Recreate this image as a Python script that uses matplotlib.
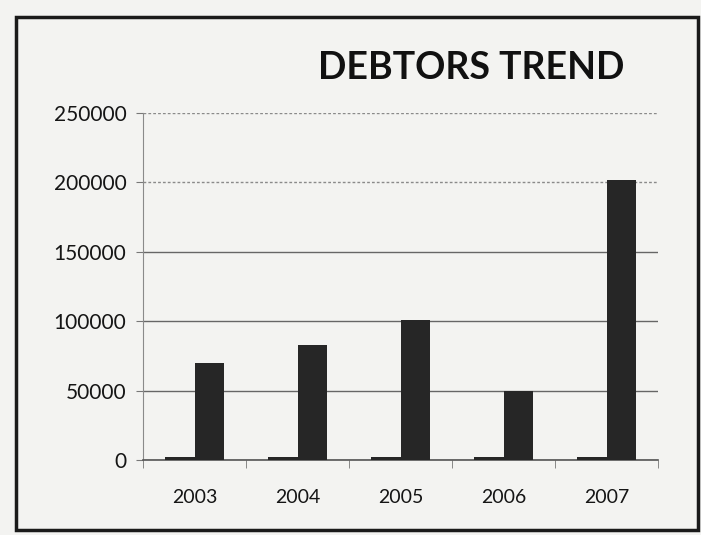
import numpy as np
import matplotlib
matplotlib.use("Agg")
import matplotlib.pyplot as plt
from matplotlib.patches import Rectangle

years = ["2003", "2004", "2005", "2006", "2007"]
year_col = [2003, 2004, 2005, 2006, 2007]
debtors = [70000, 83000, 101000, 49500, 202000]
yticks = [0, 50000, 100000, 150000, 200000, 250000]

plt.rcParams['font.family'] = ['Lato', 'DejaVu Sans']
paper = '#f3f3f1'
ink = '#262626'

fig = plt.figure(figsize=(7.01, 5.35), dpi=100, facecolor=paper)
ax = fig.add_axes([0.204, 0.140, 0.735, 0.649])
ax.set_facecolor(paper)

x = np.arange(len(years))
w = 0.286
ax.bar(x - w / 2, year_col, width=w, color=ink, zorder=3)
ax.bar(x + w / 2, debtors, width=w, color=ink, zorder=3)

ax.set_xlim(-0.5, len(years) - 0.5)
ax.set_ylim(0, 250000)
ax.set_yticks(yticks)
ax.set_yticklabels([str(v) for v in yticks], fontsize=15, color='#151515')
ax.set_xticks(x)
ax.set_xticklabels(years, fontsize=14, color='#151515')
ax.set_xticks(np.arange(-0.5, len(years)), minor=True)
ax.tick_params(axis='x', which='major', length=0, pad=21)
ax.tick_params(axis='x', which='minor', length=6, direction='out', color='#777777')
ax.tick_params(axis='y', length=5, pad=7, color='#777777')

# gridlines, the two upper ones printed faint/dotted
ax.yaxis.grid(True, color='#666666', linewidth=1.0, zorder=0)
for i, gl in enumerate(ax.get_ygridlines()):
    if yticks[i] >= 200000:
        gl.set_linestyle((0, (2, 1.5)))
        gl.set_color('#8a8a8a')

for side in ['top', 'right']:
    ax.spines[side].set_visible(False)
ax.spines['left'].set_color('#8a8a8a')
ax.spines['bottom'].set_color('#555555')
ax.spines['bottom'].set_linewidth(1.2)

fig.text(0.672, 0.873, "DEBTORS TREND", fontsize=27, fontweight='bold',
         color='#111111', ha='center', va='center')

# outer chart frame
fig.patches.append(Rectangle((16 / 701, 1 - 530 / 535), 682 / 701, 513 / 535,
                             transform=fig.transFigure, fill=False,
                             edgecolor='#1a1a1a', linewidth=2.5))

fig.savefig("out.png", dpi=100, facecolor=paper)
